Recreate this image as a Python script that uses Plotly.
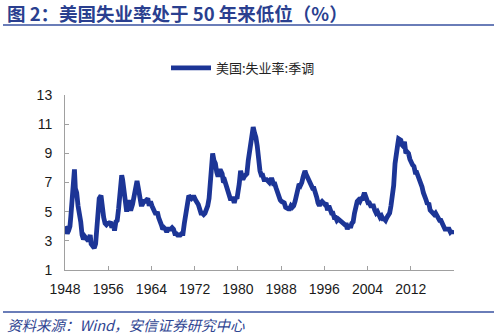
import plotly.graph_objects as go

dates = [
    "1948-01", "1948-03", "1948-06", "1948-09", "1948-12",
    "1949-02", "1949-05", "1949-07", "1949-10", "1949-12",
    "1950-03", "1950-06", "1950-09", "1950-12",
    "1951-03", "1951-06", "1951-09", "1951-12",
    "1952-02", "1952-05", "1952-07", "1952-09", "1952-11",
    "1953-02", "1953-06", "1953-09", "1953-11",
    "1954-01", "1954-03", "1954-05", "1954-09", "1954-12",
    "1955-03", "1955-06", "1955-09", "1955-12",
    "1956-03", "1956-06", "1956-09", "1956-12",
    "1957-03", "1957-06", "1957-09", "1957-12",
    "1958-03", "1958-05", "1958-07", "1958-09", "1958-12",
    "1959-03", "1959-06", "1959-09", "1959-11",
    "1960-01", "1960-04", "1960-07", "1960-10", "1960-12",
    "1961-03", "1961-05", "1961-08", "1961-11",
    "1962-02", "1962-05", "1962-08", "1962-11",
    "1963-02", "1963-05", "1963-08", "1963-11",
    "1964-02", "1964-05", "1964-08", "1964-11",
    "1965-02", "1965-05", "1965-08", "1965-11",
    "1966-02", "1966-05", "1966-08", "1966-11",
    "1967-02", "1967-05", "1967-08", "1967-11",
    "1968-02", "1968-05", "1968-08", "1968-11",
    "1969-02", "1969-05", "1969-08", "1969-11",
    "1970-02", "1970-05", "1970-08", "1970-11", "1970-12",
    "1971-03", "1971-06", "1971-09", "1971-12",
    "1972-03", "1972-06", "1972-09", "1972-12",
    "1973-03", "1973-06", "1973-09", "1973-12",
    "1974-03", "1974-06", "1974-09", "1974-12",
    "1975-02", "1975-05", "1975-08", "1975-11",
    "1976-02", "1976-05", "1976-08", "1976-11",
    "1977-02", "1977-05", "1977-08", "1977-11",
    "1978-02", "1978-05", "1978-08", "1978-11",
    "1979-02", "1979-05", "1979-08", "1979-11",
    "1980-02", "1980-04", "1980-07", "1980-10", "1980-12",
    "1981-03", "1981-06", "1981-09", "1981-12",
    "1982-03", "1982-06", "1982-09", "1982-11",
    "1983-02", "1983-05", "1983-08", "1983-11",
    "1984-02", "1984-05", "1984-08", "1984-11",
    "1985-02", "1985-05", "1985-08", "1985-11",
    "1986-02", "1986-05", "1986-08", "1986-11",
    "1987-02", "1987-05", "1987-08", "1987-11",
    "1988-02", "1988-05", "1988-08", "1988-11",
    "1989-02", "1989-05", "1989-08", "1989-11",
    "1990-02", "1990-05", "1990-08", "1990-11",
    "1991-02", "1991-05", "1991-08", "1991-11",
    "1992-02", "1992-06", "1992-08", "1992-11",
    "1993-02", "1993-05", "1993-08", "1993-11",
    "1994-02", "1994-05", "1994-08", "1994-11",
    "1995-02", "1995-05", "1995-08", "1995-11",
    "1996-02", "1996-05", "1996-08", "1996-11",
    "1997-02", "1997-05", "1997-08", "1997-11",
    "1998-02", "1998-05", "1998-08", "1998-11",
    "1999-02", "1999-05", "1999-08", "1999-11",
    "2000-02", "2000-04", "2000-08", "2000-11",
    "2001-02", "2001-05", "2001-08", "2001-11",
    "2002-02", "2002-05", "2002-08", "2002-11",
    "2003-02", "2003-06", "2003-08", "2003-11",
    "2004-02", "2004-05", "2004-08", "2004-11",
    "2005-02", "2005-05", "2005-08", "2005-11",
    "2006-02", "2006-05", "2006-08", "2006-11",
    "2007-02", "2007-05", "2007-08", "2007-11",
    "2008-02", "2008-05", "2008-08", "2008-11",
    "2009-02", "2009-05", "2009-08", "2009-10", "2009-12",
    "2010-03", "2010-05", "2010-08", "2010-11",
    "2011-02", "2011-05", "2011-08", "2011-11",
    "2012-02", "2012-05", "2012-08", "2012-11",
    "2013-02", "2013-05", "2013-08", "2013-11",
    "2014-02", "2014-05", "2014-08", "2014-11",
    "2015-02", "2015-05", "2015-08", "2015-11",
    "2016-02", "2016-05", "2016-08", "2016-11",
    "2017-02", "2017-05", "2017-08", "2017-11",
    "2018-02", "2018-05", "2018-08", "2018-11",
    "2019-02", "2019-05", "2019-08", "2019-09", "2019-10",
]

unemployment = [
    4.0, 3.7, 3.5, 3.7, 4.0,
    4.7, 6.0, 6.7, 7.9, 6.6,
    6.3, 5.4, 4.4, 4.3,
    3.4, 3.1, 3.3, 3.1,
    3.1, 3.0, 3.2, 3.4, 2.8,
    2.7, 2.5, 2.8, 3.5,
    4.9, 5.8, 5.9, 6.1, 5.0,
    4.6, 4.2, 4.1, 4.2,
    4.2, 4.3, 3.9, 4.2,
    3.7, 4.3, 4.4, 5.2,
    6.7, 7.4, 7.5, 7.2, 6.2,
    5.6, 5.0, 5.5, 5.8,
    5.2, 5.2, 5.5, 6.1, 6.6,
    6.9, 7.1, 6.6, 6.1,
    5.5, 5.5, 5.7, 5.7,
    5.9, 5.9, 5.4, 5.7,
    5.4, 5.1, 5.0, 4.8,
    5.0, 4.6, 4.4, 4.1,
    3.8, 3.9, 3.8, 3.6,
    3.8, 3.8, 3.8, 3.9,
    3.8, 3.5, 3.5, 3.4,
    3.4, 3.4, 3.5, 3.5,
    4.2, 4.8, 5.1, 5.9, 6.1,
    6.0, 5.9, 6.0, 6.0,
    5.8, 5.7, 5.5, 5.2,
    4.9, 4.9, 4.8, 4.9,
    5.1, 5.4, 5.9, 7.2,
    8.1, 9.0, 8.5, 8.3,
    7.7, 7.4, 7.8, 7.8,
    7.6, 7.0, 7.1, 6.8,
    6.3, 6.0, 5.9, 5.9,
    5.9, 5.6, 6.0, 5.9,
    6.3, 6.9, 7.8, 7.5, 7.2,
    7.4, 7.5, 7.6, 8.5,
    9.0, 9.6, 10.1, 10.8,
    10.4, 10.1, 9.5, 8.5,
    7.8, 7.5, 7.5, 7.2,
    7.2, 7.2, 7.1, 7.0,
    7.2, 7.2, 6.9, 6.9,
    6.6, 6.3, 6.0, 5.8,
    5.7, 5.6, 5.6, 5.3,
    5.2, 5.2, 5.2, 5.4,
    5.3, 5.4, 5.7, 6.2,
    6.6, 6.9, 6.8, 7.0,
    7.4, 7.8, 7.6, 7.4,
    7.1, 7.1, 6.8, 6.6,
    6.6, 6.1, 6.0, 5.6,
    5.4, 5.6, 5.7, 5.6,
    5.5, 5.6, 5.1, 5.4,
    5.2, 4.9, 4.9, 4.6,
    4.6, 4.4, 4.5, 4.4,
    4.4, 4.2, 4.2, 4.1,
    4.1, 3.8, 4.1, 3.9,
    4.2, 4.3, 4.9, 5.5,
    5.7, 5.8, 5.7, 5.9,
    5.9, 6.3, 6.1, 5.8,
    5.6, 5.6, 5.4, 5.4,
    5.4, 5.1, 4.9, 5.0,
    4.8, 4.6, 4.7, 4.5,
    4.5, 4.4, 4.6, 4.7,
    4.9, 5.4, 6.1, 6.8,
    8.3, 9.4, 9.6, 10.0, 9.9,
    9.9, 9.6, 9.5, 9.8,
    9.0, 9.1, 9.0, 8.6,
    8.3, 8.2, 8.1, 7.7,
    7.7, 7.5, 7.2, 6.9,
    6.7, 6.3, 6.1, 5.8,
    5.5, 5.6, 5.1, 5.0,
    4.9, 4.8, 4.9, 4.7,
    4.6, 4.4, 4.4, 4.2,
    4.1, 3.8, 3.8, 3.8,
    3.8, 3.6, 3.7, 3.5, 3.6,
]

x_tick_years = [1948, 1956, 1964, 1972, 1980, 1988, 1996, 2004, 2012, 2020]
x_tick_labels = ["1948", "1956", "1964", "1972", "1980", "1988", "1996", "2004", "2012", ""]
y_ticks = [1, 3, 5, 7, 9, 11, 13]

series_name = "美国:失业率:季调"
title_text = "图 2：美国失业率处于 50 年来低位（%）"
source_text = "资料来源：Wind，安信证券研究中心"

LINE_COLOR = "#1c3596"
AXIS_COLOR = "#a0a0a0"
TEXT_FONT = "Liberation Sans, Arial, Noto Sans CJK SC, sans-serif"
CJK_FONT = "Noto Sans CJK SC, Liberation Sans, sans-serif"

fig = go.Figure()
fig.add_trace(go.Scatter(
    x=[d + "-01" for d in dates],
    y=unemployment,
    mode="lines",
    name=series_name,
    line=dict(color=LINE_COLOR, width=4.8),
))

# plot area pixel geometry
W, H = 500, 335
L, R, T, B = 65, 46, 95, 65
pw, ph = W - L - R, H - T - B

def px_x(p):
    return (p - L) / pw

def px_y(p):
    return (H - B - p) / ph

fig.update_layout(
    width=W, height=H,
    margin=dict(l=L, r=R, t=T, b=B, pad=0),
    paper_bgcolor="white",
    plot_bgcolor="white",
    showlegend=True,
    legend=dict(
        orientation="h",
        x=px_x(166), y=px_y(68), xanchor="left", yanchor="middle",
        font=dict(family=CJK_FONT, size=13, color="#222222"),
        bgcolor="rgba(0,0,0,0)",
        itemwidth=40,
    ),
    xaxis=dict(
        type="date",
        range=["1948-01-01", "2020-01-01"],
        tickvals=[f"{y}-01-01" for y in x_tick_years],
        ticktext=x_tick_labels,
        ticks="inside", ticklen=4, tickcolor=AXIS_COLOR, tickwidth=1,
        showline=True, linecolor=AXIS_COLOR, linewidth=1,
        showgrid=False, zeroline=False,
        tickfont=dict(family=TEXT_FONT, size=14, color="#1a1a1a"),
        ticklabelstandoff=6,
    ),
    yaxis=dict(
        range=[1, 13],
        tickvals=y_ticks,
        ticks="inside", ticklen=4, tickcolor=AXIS_COLOR, tickwidth=1,
        showline=True, linecolor=AXIS_COLOR, linewidth=1,
        showgrid=False, zeroline=False,
        tickfont=dict(family=TEXT_FONT, size=14, color="#1a1a1a"),
        ticklabelstandoff=9,
    ),
    shapes=[
        dict(type="line", xref="paper", yref="paper",
             x0=px_x(3), x1=px_x(494), y0=px_y(25), y1=px_y(25),
             line=dict(color="#6a7db8", width=2)),
        dict(type="line", xref="paper", yref="paper",
             x0=px_x(3), x1=px_x(494), y0=px_y(312), y1=px_y(312),
             line=dict(color="#6a7db8", width=2)),
    ],
    annotations=[
        dict(text="<b>" + title_text + "</b>", xref="paper", yref="paper",
             x=px_x(5), y=px_y(13), xanchor="left", yanchor="middle",
             showarrow=False,
             font=dict(family=CJK_FONT, size=18.5, color="#2a3f8f")),
        dict(text=source_text, xref="paper", yref="paper",
             x=px_x(5), y=px_y(324), xanchor="left", yanchor="middle",
             showarrow=False,
             font=dict(family=CJK_FONT, size=14.5, color="#2f4592", style="italic")),
    ],
)

fig.write_html("out.html")
